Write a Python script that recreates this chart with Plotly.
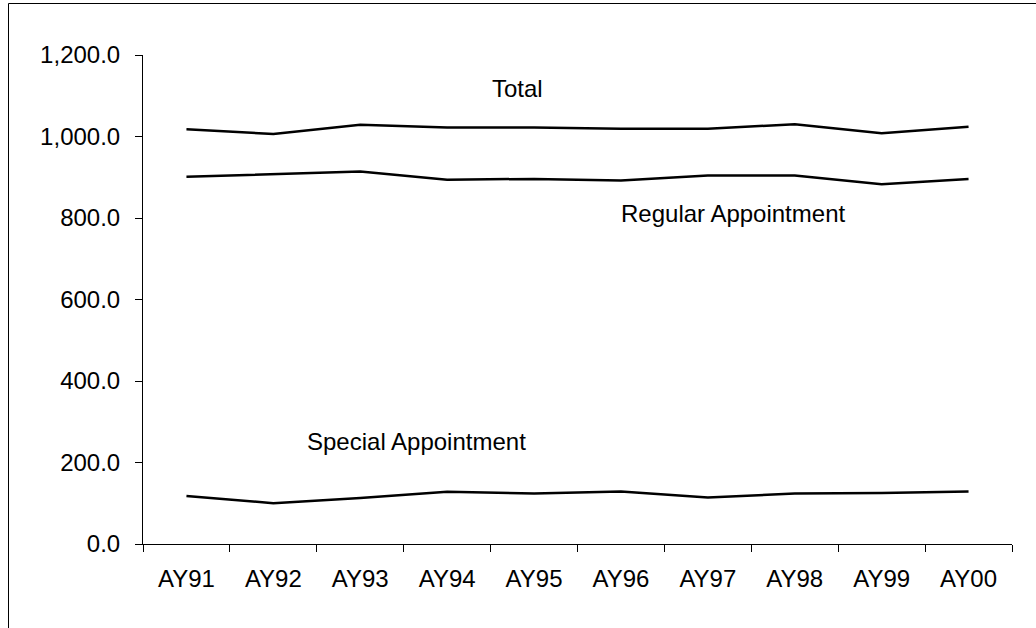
import plotly.graph_objects as go

years = ["AY91", "AY92", "AY93", "AY94", "AY95", "AY96", "AY97", "AY98", "AY99", "AY00"]
total = [1018, 1006, 1029, 1022, 1022, 1019, 1019, 1030, 1008, 1024]
regular = [901, 907, 914, 894, 896, 892, 904, 904, 883, 896]
special = [118, 100, 113, 128, 124, 129, 114, 124, 125, 129]

font_family = "Arial, 'Liberation Sans', sans-serif"
line_style = dict(color="black", width=2.5)

fig = go.Figure()
for name, vals in [("Total", total), ("Regular Appointment", regular), ("Special Appointment", special)]:
    fig.add_trace(go.Scatter(x=years, y=vals, mode="lines", name=name, line=line_style, showlegend=False))

ann_font = dict(family=font_family, size=24, color="black")
fig.add_annotation(x="AY95", y=1117, text="Total", showarrow=False, xanchor="center", font=ann_font, xshift=-17)
fig.add_annotation(x="AY98", y=810, text="Regular Appointment", showarrow=False, xanchor="center", font=ann_font, xshift=-62)
fig.add_annotation(x="AY94", y=251, text="Special Appointment", showarrow=False, xanchor="center", font=ann_font, xshift=-31)

fig.update_layout(
    width=1036, height=628,
    margin=dict(l=143, r=24, t=55, b=84),
    paper_bgcolor="white", plot_bgcolor="white",
    font=dict(family=font_family, size=24, color="black"),
    xaxis=dict(
        type="category", tickson="boundaries", ticks="outside", ticklen=7, tickwidth=1,
        tickcolor="black", showline=True, linecolor="black", linewidth=1,
        showgrid=False, zeroline=False, ticklabelstandoff=13,
        range=[-0.5, 9.5],
    ),
    yaxis=dict(
        range=[0, 1200], dtick=200, tickformat=",.1f", ticks="outside", ticklen=7,
        tickwidth=1, tickcolor="black", showline=True, linecolor="black", linewidth=1,
        showgrid=False, zeroline=False, ticklabelstandoff=10,
    ),
    shapes=[dict(type="rect", xref="paper", yref="paper",
                 x0=(8.5 - 143) / 869, x1=2, y0=-1, y1=(544 - 3.5) / 489,
                 line=dict(color="black", width=1), fillcolor="rgba(0,0,0,0)", layer="below")],
)

fig.write_html("out.html", config={"displayModeBar": False},
               post_script="document.body.style.margin='0';")
